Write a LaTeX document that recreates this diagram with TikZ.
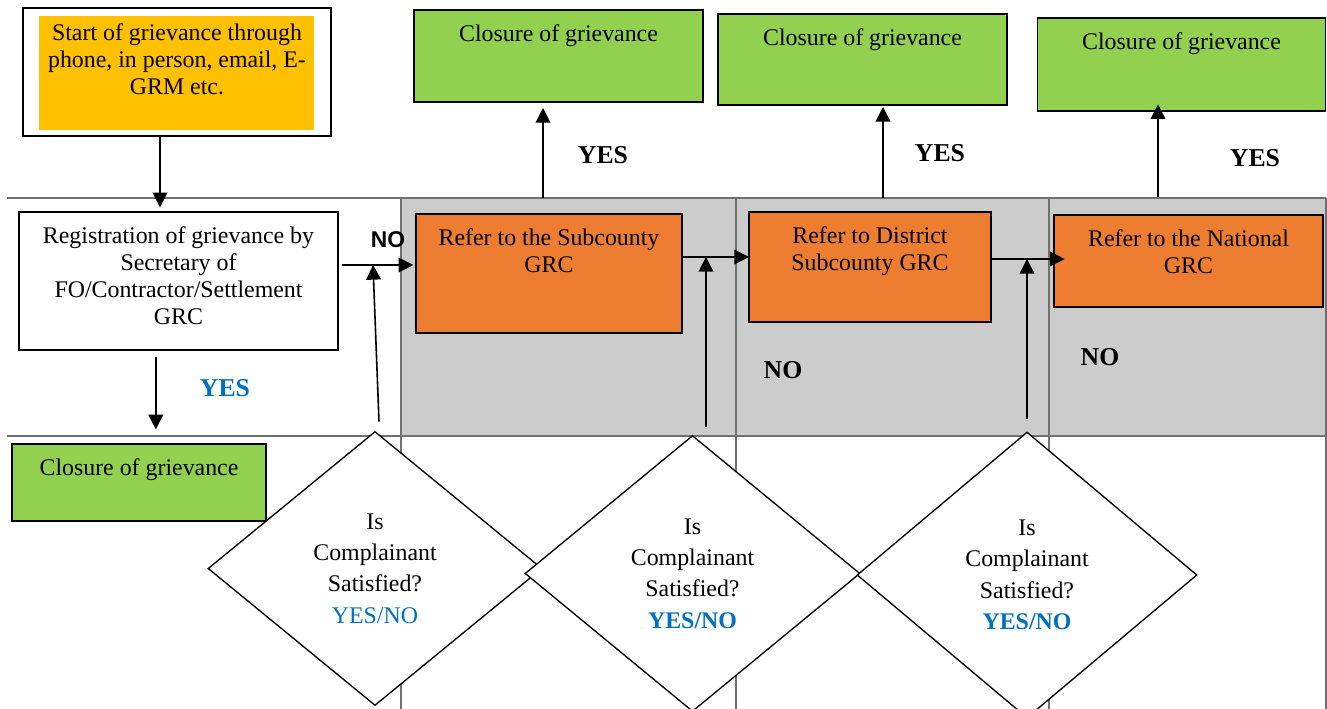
\documentclass[tikz,border=0pt]{standalone}
\usepackage{fontspec}
\setmainfont{Liberation Serif}
\newfontfamily\arialfont{Liberation Sans}
\usepackage{tikz}
\usetikzlibrary{shapes,arrows,positioning,calc,arrows.meta}
\definecolor{startorange}{HTML}{FFC000}
\definecolor{closegreen}{HTML}{92D050}
\definecolor{referorange}{HTML}{ED7D31}
\definecolor{cellgray}{HTML}{CCCCCC}
\definecolor{linegray}{HTML}{707070}
\definecolor{yesblue}{HTML}{0070C0}

\begin{document}
\begin{tikzpicture}[x=0.75pt, y=-0.75pt,
    boxsize/.style 2 args={draw=black, line width=1.2pt, inner sep=0pt, outer sep=0pt, minimum width=#1*0.75pt, minimum height=#2*0.75pt},
    lbl/.style={anchor=north, align=center, inner sep=0pt, yshift=-10.5pt, font=\fontsize{17.9pt}{20.25pt}\selectfont},
    txt/.style={label={[lbl]north:{#1}}},
    closebox/.style 2 args={boxsize={#1}{#2}, fill=closegreen, txt={Closure of grievance}},
    referbox/.style 2 args={boxsize={#1}{#2}, fill=referorange},
    ask/.style 2 args={diamond, draw, fill=white, line width=1pt, inner sep=0pt, align=center, minimum width=#1*0.75pt, minimum height=#2*0.75pt, font=\fontsize{17.9pt}{23.6pt}\selectfont},
    arr/.style={line width=1.2pt, -{Triangle[length=11pt, width=11pt]}},
    yes/.style={font=\fontsize{19.3pt}{22pt}\selectfont\bfseries},
    cellline/.style={draw=linegray, line width=1.2pt}
]
\useasboundingbox (0,0) rectangle (1327,709);
\clip (0,0) rectangle (1327,709);

\fill[cellgray] (401,198) rectangle (1326,436);
\draw[cellline] (7,198) -- (1326,198) (7,436) -- (1326,436);
\foreach \x in {401,736,1049,1326}
    \draw[cellline] (\x,198) -- (\x,709);

\node[boxsize={308}{128}, fill=white,
    path picture={\fill[startorange] ([shift={(12pt,-6pt)}]path picture bounding box.north west) rectangle ([shift={(-12.75pt,4.5pt)}]path picture bounding box.south east);},
    label={[lbl, yshift=-1.1pt]north:{Start of grievance through\\ phone, in person, email, E-\\ GRM etc.}}] (start) at (177,72) {};
\node[boxsize={319}{138}, fill=white, txt={Registration of grievance by\\ Secretary of\\ FO/Contractor/Settlement\\ GRC}] (reg) at (178.5,281) {};
\node[closebox={254}{77}] (close0) at (139,482.5) {};

\node[closebox={289}{92}] (close1) at (558.5,56) {};
\node[closebox={289}{91}] (close2) at (862.5,59.5) {};
\node[closebox={288}{93}] (close3) at (1181.5,64.5) {};

\node[referbox={266}{119}, txt={Refer to the Subcounty\\ GRC}] (sub) at (549,273.5) {};
\node[referbox={242}{110}, txt={Refer to District\\ Subcounty GRC}] (dist) at (870,267) {};
\node[referbox={269}{92}, txt={Refer to the National\\ GRC}] (nat) at (1188.5,261) {};

\node[ask={334}{274}] (d1) at (375,568.5) {Is\\ Complainant\\ Satisfied?\\ \textcolor{yesblue}{YES/NO}};
\node[ask={335}{276}] (d2) at (692.5,573.5) {Is\\ Complainant\\ Satisfied?\\ \textcolor{yesblue}{\bfseries YES/NO}};
\node[ask={340}{286}] (d3) at (1027,575) {Is\\ Complainant\\ Satisfied?\\ \textcolor{yesblue}{\bfseries YES/NO}};

\draw[arr, shorten >=3.5pt] ([xshift=-12.75pt]start.south) -- ([xshift=-12.75pt]start.south |- reg.north);
\draw[arr, shorten <=5pt, shorten >=11pt] ([xshift=-17pt]reg.south) -- ([xshift=-17pt]reg.south |- close0.north);
\node[yes, text=yesblue] (yes0) at (225,388) {YES};

\draw[arr, shorten <=3pt, shorten >=2pt] ([yshift=12pt]reg.east) coordinate (no1) -- (no1 -| sub.west);
\node[font=\arialfont\fontsize{17.1pt}{20pt}\selectfont\bfseries] (no0) at (388,240) {NO};
\draw[arr] ([xshift=3pt, yshift=7pt]d1.north) -- ([xshift=-1.5pt]d1.north |- no1);

\draw[arr] ([yshift=12.4pt]sub.east) coordinate (no2) -- (no2 -| dist.west);
\draw[arr] ([xshift=10.1pt, yshift=6pt]d2.north) -- ([xshift=10.1pt]d2.north |- no2);

\draw[arr] ([yshift=6pt]dist.east) coordinate (no3) -- ([xshift=8pt]no3 -| nat.west);
\draw[arr] ([yshift=9pt]d3.north) -- (d3.north |- no3);

\coordinate (up1) at (543,198);
\coordinate (up2) at (883,198);
\coordinate (up3) at (1158,197);
\draw[arr, shorten >=4.5pt] (up1) -- (up1 |- close1.south);
\draw[arr, shorten >=1.5pt] (up2) -- (up2 |- close2.south);
\draw[arr, shorten >=-5pt] (up3) -- (up3 |- close3.south);

\node[yes] (yes1) at (603,155) {YES};
\node[yes] (yes2) at (940,153) {YES};
\node[yes] (yes3) at (1255,158) {YES};
\node[yes] (no4) at (783,370) {NO};
\node[yes] (no5) at (1100,357) {NO};
\end{tikzpicture}
\end{document}
